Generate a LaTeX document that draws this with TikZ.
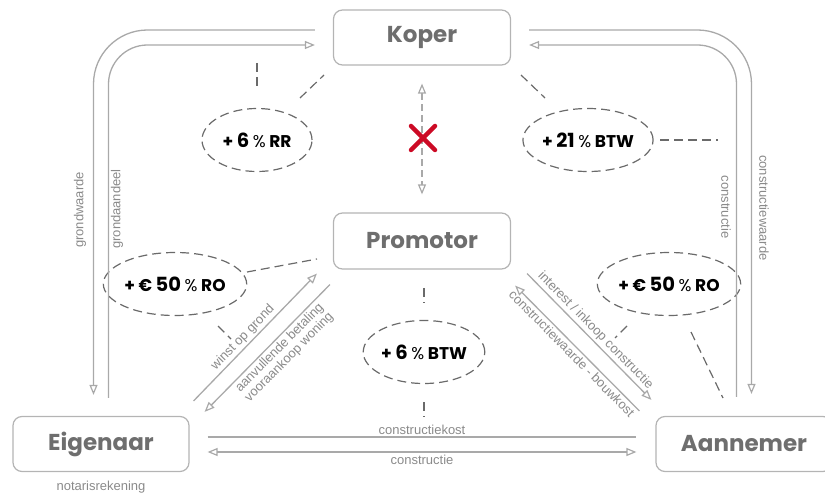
\documentclass[tikz,border=0pt]{standalone}
\usepackage{fontspec}
\setmainfont{Liberation Sans}
\newfontfamily\boxfont{Poppins}
\usetikzlibrary{arrows.meta,shapes.geometric}

\definecolor{linegray}{HTML}{A9A9A9}
\definecolor{boxline}{HTML}{B4B4B4}
\definecolor{boxtext}{HTML}{6E6E6E}
\definecolor{labelgray}{HTML}{8A8A8A}
\definecolor{dashgray}{HTML}{6A6A6A}
\definecolor{crossred}{HTML}{CC0A25}

\newcommand{\bignum}[1]{{\fontsize{19.5}{22}\selectfont #1}}
\newcommand{\pct}{{\mdseries\%}}

\tikzset{
  party/.style={draw=boxline, line width=1.2pt, rounded corners=9pt,
    minimum width=177pt, minimum height=55pt, inner sep=0pt,
    text=boxtext, font=\boxfont\bfseries\fontsize{23}{26}\selectfont},
  levy/.style={ellipse, draw=dashgray, line width=1.2pt,
    dash pattern=on 9pt off 5pt, minimum width=110pt, minimum height=63pt,
    inner sep=0pt, font=\boxfont\bfseries\fontsize{17}{20}\selectfont},
  flow/.style={draw=linegray, line width=1.3pt},
  tip/.style={-{Triangle[open, length=10pt, width=8pt, line width=1.2pt]}},
  tips/.style={{Triangle[open, length=10pt, width=8pt, line width=1.2pt]}-{Triangle[open, length=10pt, width=8pt, line width=1.2pt]}},
  flowlabel/.style={text=labelgray, font=\fontsize{13}{14}\selectfont, inner sep=2pt},
  link/.style={draw=dashgray, line width=1.2pt, dash pattern=on 9pt off 5pt},
}

\begin{document}
\begin{tikzpicture}[x=1pt, y=-1pt]
\useasboundingbox (0,0) rectangle (825,497);

% the four parties
\node[party] (koper) at (422,37.5) {Koper};
\node[party, minimum height=56pt] (prom) at (422,241) {Promotor};
\node[party, minimum width=176pt] (eig) at (101,444) {Eigenaar};
\node[party, minimum width=176pt] (aan) at (744,444) {Aannemer};
\node[flowlabel] (notaris) at (101,487) {notarisrekening};

% taxes and levies
\node[levy] (rr) at (257,140) {+ \bignum{6} \pct{} RR};
\node[levy] (btwk) at (588,140) {+ \bignum{21} \pct{} BTW};
\node[levy] (rol) at (175,284) {+ € \bignum{50} \pct{} RO};
\node[levy] (ror) at (669,284) {+ € \bignum{50} \pct{} RO};
\node[levy] (btwp) at (424,352) {+ \bignum{6} \pct{} BTW};

% land: Koper <-> Eigenaar
\draw[flow, tip, rounded corners=54pt]
  ([shift={(-18,-7.5)}]koper.west) -| ([shift={(-7.5,-21)}]eig.north);
\draw[flow, tip, rounded corners=39pt]
  ([shift={(7.5,-18)}]eig.north) |- ([shift={(-18,7.5)}]koper.west);
\node[flowlabel, rotate=90] (gw) at (80,210) {grondwaarde};
\node[flowlabel, rotate=90] (ga) at (117,209) {grondaandeel};

% construction: Koper <-> Aannemer
\draw[flow, tip, rounded corners=54pt]
  ([shift={(18,-7.5)}]koper.east) -| ([shift={(7.5,-22)}]aan.north);
\draw[flow, tip, rounded corners=39pt]
  ([shift={(-7.5,-19)}]aan.north) |- ([shift={(18,7.5)}]koper.east);
\node[flowlabel, rotate=-90] (cw) at (764,208) {constructiewaarde};
\node[flowlabel, rotate=-90] (cr) at (726,207) {constructie};

% no direct flow between Koper and Promotor
\draw[flow, tips, dash pattern=on 7pt off 4pt]
  ([shift={(0,18)}]koper.south) -- ([shift={(0,-18)}]prom.north);
\draw[crossred, line width=4.5pt, line cap=round]
  (411,126) -- (435,150) (435,126) -- (411,150);

% Eigenaar <-> Promotor
\draw[flow, tip] ([shift={(4,-15)}]eig.north east) --
  node[sloped, above, flowlabel, pos=0.45] {winst op grond}
  ([shift={(-16,4)}]prom.south west);
\draw[flow, tip] ([shift={(-3,15)}]prom.south west) --
  node[sloped, below, flowlabel, align=center, pos=0.45, font=\fontsize{13}{13.5}\selectfont]
  {aanvullende betaling\\vooraankoop woning}
  ([shift={(15,-4)}]eig.north east);

% Promotor <-> Aannemer
\draw[flow, tip] ([shift={(16,4)}]prom.south east) --
  node[sloped, above, flowlabel, pos=0.5] {interest / inkoop constructie}
  ([shift={(-4,-16)}]aan.north west);
\draw[flow, tip] ([shift={(-16,-5)}]aan.north west) --
  node[sloped, below, flowlabel, pos=0.5] {constructiewaarde - bouwkost}
  ([shift={(4,16)}]prom.south east);

% Eigenaar <-> Aannemer
\draw[flow] ([shift={(18,-7)}]eig.east) --
  node[above, flowlabel] {constructiekost}
  ([shift={(-19,-7)}]aan.west);
\draw[flow, tips] ([shift={(18,8)}]eig.east) --
  node[below, flowlabel] {constructie}
  ([shift={(-19,8)}]aan.west);

% dashed leaders of the levies
\draw[link] ([shift={(0,-77)}]rr.center) -- ([shift={(0,-50)}]rr.center);
\draw[link] ([shift={(43,-42)}]rr.center) -- ([shift={(67,-65)}]rr.center);
\draw[link] ([shift={(-67,-65)}]btwk.center) -- ([shift={(-43,-42)}]btwk.center);
\draw[link] ([shift={(72,0)}]btwk.center) -- ([shift={(130,0)}]btwk.center);
\draw[link] ([shift={(72,-12)}]rol.center) -- ([shift={(142,-25)}]rol.center);
\draw[link] ([shift={(43,42)}]rol.center) -- ([shift={(56,55)}]rol.center);
\draw[link] ([shift={(0,-64)}]btwp.center) -- ([shift={(0,-49)}]btwp.center);
\draw[link] ([shift={(0,50)}]btwp.center) -- ([shift={(0,65)}]btwp.center);
\draw[link] ([shift={(-42,42)}]ror.center) -- ([shift={(-54,54)}]ror.center);
\draw[link] ([shift={(22,48)}]ror.center) -- ([shift={(54,114)}]ror.center);
\end{tikzpicture}
\end{document}
